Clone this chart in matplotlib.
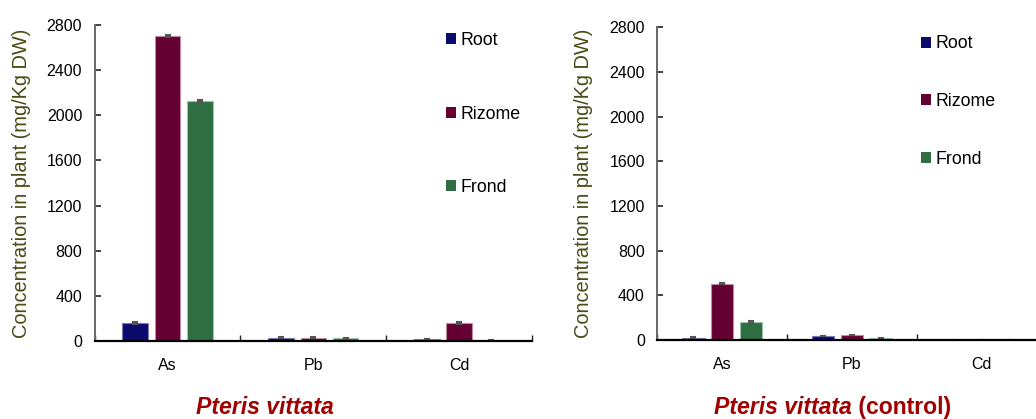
import matplotlib
matplotlib.use("Agg")
import matplotlib.pyplot as plt
from matplotlib.patches import Patch
import numpy as np

plt.rcParams['font.family'] = ['Liberation Sans', 'DejaVu Sans']

# Metal concentrations (mg/Kg DW) in three plant parts
metals = ["As", "Pb", "Cd"]
parts = ["Root", "Rizome", "Frond"]

treated_root = [160, 29, 18]
treated_rizome = [2705, 29, 160]
treated_frond = [2124, 24, 4]
treated_err_root = [6, 3, 3]
treated_err_rizome = [8, 3, 6]
treated_err_frond = [8, 3, 2]

control_root = [21, 36, 2]
control_rizome = [504, 45, 2]
control_frond = [161, 15, 1]
control_err_root = [4, 3, 1]
control_err_rizome = [6, 3, 1]
control_err_frond = [5, 3, 1]

y_ticks = [0, 400, 800, 1200, 1600, 2000, 2400, 2800]

colors = ["#0b0b6e", "#650032", "#2f6e42"]
edge_colors = ["#7a7ab8", "#c08aa4", "#9cc2a8"]

W, H = 1036, 419
fig = plt.figure(figsize=(W / 100, H / 100), dpi=100)


def px_box(x0, y_bottom, x1, y_top):
    return [x0 / W, 1 - y_bottom / H, (x1 - x0) / W, (y_bottom - y_top) / H]


def draw_panel(ax, series, errors, legend_anchor, spacing):
    x = np.arange(len(metals))
    width = 0.175
    offsets = [-0.222, 0.0, 0.222]
    for vals, errs, off, c, ec in zip(series, errors, offsets, colors, edge_colors):
        ax.bar(x + off, vals, width, color=c, edgecolor=ec, linewidth=0.8,
               yerr=errs, error_kw=dict(ecolor="#555555", elinewidth=0.8,
                                         capsize=2.2, capthick=1.5))
    ax.set_xlim(-0.5, len(metals) - 0.5)
    ax.set_ylim(0, 2800)
    ax.set_yticks(y_ticks)
    ax.set_yticklabels([str(v) for v in y_ticks])
    ax.tick_params(axis='y', direction='in', length=4.5, width=1.2,
                   color="#222222", labelsize=11.5, pad=9)
    ax.set_xticks(np.arange(len(metals) + 1) - 0.5)
    ax.set_xticklabels([])
    ax.tick_params(axis='x', which='major', direction='in', length=4.5,
                   width=1.0, color="#222222")
    ax.set_xticks(x, minor=True)
    ax.set_xticklabels(metals, minor=True)
    ax.tick_params(axis='x', which='minor', length=0, labelsize=11.5, pad=12)
    for s in ("top", "right"):
        ax.spines[s].set_visible(False)
    ax.spines["left"].set_color("#666666")
    ax.spines["left"].set_linewidth(1.4)
    ax.spines["bottom"].set_color("#000000")
    ax.spines["bottom"].set_linewidth(1.6)
    ax.set_ylabel("Concentration in plant (mg/Kg DW)", fontsize=14.4,
                  color="#4a4a14", labelpad=11.5)
    handles = [Patch(facecolor=c, edgecolor='none') for c in colors]
    ax.legend(handles, parts, loc="upper left", frameon=False,
              bbox_to_anchor=(legend_anchor[0] / W, 1 - legend_anchor[1] / H),
              bbox_transform=fig.transFigure, fontsize=12.8,
              handlelength=0.55, handleheight=0.55, handletextpad=0.25,
              labelspacing=spacing, borderpad=0, borderaxespad=0)


ax1 = fig.add_axes(px_box(94.7, 341, 532, 25))
draw_panel(ax1,
           [treated_root, treated_rizome, treated_frond],
           [treated_err_root, treated_err_rizome, treated_err_frond],
           (446, 32), 3.18)

ax2 = fig.add_axes(px_box(657.3, 340, 1046.4, 27.3))
draw_panel(ax2,
           [control_root, control_rizome, control_frond],
           [control_err_root, control_err_rizome, control_err_frond],
           (921, 35.5), 2.28)

title_color = "#a00000"
fig.text(264.6 / W, 1 - 414 / H, "Pteris vittata", fontsize=16.6,
         fontweight="bold", fontstyle="italic", color=title_color,
         ha="center", va="baseline")
t1 = fig.text(714 / W, 1 - 414 / H, "Pteris vittata", fontsize=16.6,
              fontweight="bold", fontstyle="italic", color=title_color,
              ha="left", va="baseline")
fig.canvas.draw()
bb = t1.get_window_extent()
fig.text(bb.x1 / W, 1 - 414 / H, " (control)", fontsize=16.6,
         fontweight="bold", color=title_color, ha="left", va="baseline")

fig.savefig("out.png", dpi=100)
